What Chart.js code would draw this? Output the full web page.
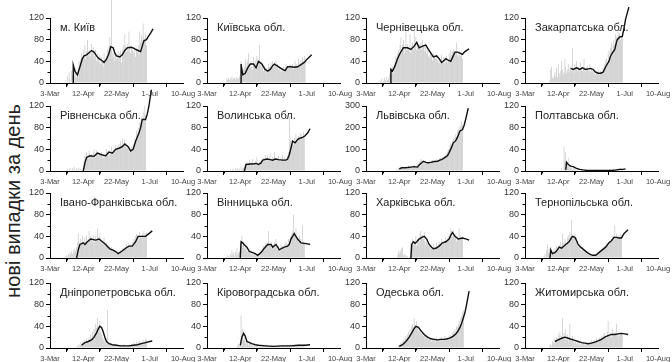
<!DOCTYPE html>
<html>
<head>
<meta charset="utf-8">
<script src="https://cdn.jsdelivr.net/npm/chart.js@4.4.0/dist/chart.umd.min.js"></script>
<style>
body { margin: 0; width: 672px; height: 362px; background: #fff; position: relative; overflow: hidden; font-family: "Liberation Sans", Arial, sans-serif; }
canvas { position: absolute; }
#ylab { position: absolute; left: 13px; top: 201px; transform: translate(-50%, -50%) rotate(-90deg); white-space: nowrap; font-size: 20px; color: #222; }
</style>
</head>
<body>
<div id="ylab">нові випадки за день</div>
<script>
// day 0 = 3 березня
const tickDays = [0, 40, 80, 120, 160];
const tickLabels = ['3-Mar', '12-Apr', '22-May', '1-Jul', '10-Aug'];

const regions = ['м. Київ', 'Київська обл.', 'Чернівецька обл.', 'Закарпатська обл.',
  'Рівненська обл.', 'Волинська обл.', 'Львівська обл.', 'Полтавська обл.',
  'Івано-Франківська обл.', 'Вінницька обл.', 'Харківська обл.', 'Тернопільська обл.',
  'Дніпропетровська обл.', 'Кіровоградська обл.', 'Одеська обл.', 'Житомирська обл.'];

const yMax = [120, 120, 120, 120, 120, 120, 300, 120, 120, 120, 120, 120, 120, 120, 120, 120];
const yTicks120 = [0, 40, 80, 120];
const yTicks300 = [0, 100, 200, 300];

// перший день стовпчиків для кожної області
const barStart = [18, 24, 14, 30, 18, 25, 36, 44, 18, 22, 38, 22, 30, 36, 38, 30];

const barsKyivCity = [0,5,0,12,0,20,8,0,22,15,
  35,20,12,28,10,18,25,40,30,45,55,48,60,
  52,70,45,58,80,50,62,55,48,72,58,66,44,50,62,40,55,48,38,52,
  35,48,42,30,55,45,38,50,62,58,70,85,60,160,55,48,62,40,52,45,
  48,58,42,55,60,38,62,70,55,90,68,58,72,60,95,65,55,70,62,58,
  55,62,48,65,58,70,52,95,75,88,80,110,85,78,92,70];
const lineKyivCity = [[28,0],[28,33],[30,22],[33,15],[36,30],[39,45],[41,50],[44,52],[47,56],[50,60],[53,57],[56,50],[59,45],[62,42],[65,38],[68,44],[71,55],[73,67],[76,65],[78,55],[80,50],[84,48],[87,52],[90,60],[93,65],[97,66],[100,65],[103,62],[106,60],[109,58],[111,68],[113,78],[116,80],[118,85],[121,92],[124,100]];

const barsKyivObl = [8,6,10,5,9,7,12,6,8,10,5,9,11,7,8,12,10,
  40,20,15,25,30,45,38,30,42,55,35,28,40,30,25,48,35,42,30,50,
  45,38,70,32,40,28,35,22,30,25,18,28,20,35,30,25,38,28,40,30,
  38,30,42,28,35,25,30,22,28,20,25,30,22,28,35,30,25,32,28,35,
  30,28,35,25,32,40,28,35,30,45,32,38,42,35,48,40,50,45];
const lineKyivObl = [[41,0],[41,35],[43,15],[46,18],[49,28],[52,35],[56,35],[59,28],[62,40],[66,35],[70,25],[73,22],[76,25],[79,32],[81,35],[84,32],[88,28],[91,25],[94,23],[97,30],[101,30],[105,29],[109,30],[113,34],[117,38],[121,45],[126,52]];

const barsChernivtsi = [0,3,0,5,2,8,0,4,10,6,3,12,5,8,15,20,
  28,22,30,18,35,40,50,45,55,62,48,70,85,60,72,
  80,55,70,95,60,72,65,58,90,55,68,75,62,100,70,85,60,78,65,72,
  68,75,62,80,70,58,72,65,55,60,48,52,45,58,50,42,55,48,52,45,
  50,42,38,45,35,40,52,38,48,42,35,45,50,38,42,55,48,60,52,58,
  62,55,50,58,75,52,48,60,55,50,58,45];
const lineChernivtsi = [[30,0],[30,25],[32,22],[35,32],[38,45],[41,55],[45,65],[50,65],[54,62],[58,68],[61,75],[64,65],[68,68],[72,70],[75,62],[78,55],[81,48],[85,50],[88,45],[91,38],[94,42],[96,45],[99,42],[102,40],[105,50],[107,57],[110,57],[113,55],[116,53],[119,58],[124,63]];

const barsZakarpattia = [5,25,30,10,8,15,20,12,28,10,35,18,12,22,40,25,15,20,45,30,18,25,35,20,28,
  30,22,65,25,18,35,28,40,22,30,25,20,38,28,22,30,45,25,20,28,32,22,25,35,20,28,22,18,25,20,15,22,18,25,20,15,22,18,20,25,
  28,35,40,45,38,55,60,50,65,75,58,70,80,72,90,85,78,95,88,92,80,85,90];
const lineZakarpattia = [[55,27],[58,25],[62,28],[66,25],[69,28],[73,25],[76,26],[79,27],[82,25],[85,20],[88,18],[91,18],[94,20],[97,30],[101,40],[103,50],[105,55],[108,62],[110,75],[111,80],[114,85],[117,86],[119,100],[121,118],[125,140]];

const barsRivne = [0,2,0,4,0,3,6,0,2,5,0,8,3,0,5,2,6,0,4,3,0,2,
  5,20,30,25,35,28,22,38,30,25,32,28,35,40,30,25,38,32,28,35,30,
  28,35,25,30,22,32,28,40,35,30,38,28,32,45,30,38,42,35,48,40,
  45,38,50,42,55,48,60,45,52,58,50,42,48,40,35,42,38,45,40,48,
  50,60,55,75,65,80,70,90,85,100,95,110,90,120,105];
const lineRivne = [[40,0],[42,15],[44,25],[48,28],[53,27],[57,33],[62,30],[67,28],[71,35],[75,33],[79,40],[83,42],[87,45],[90,50],[94,45],[97,37],[100,40],[103,55],[107,70],[109,80],[111,95],[115,95],[117,105],[119,120],[122,150]];

const barsVolyn = [0,2,0,3,1,0,4,2,0,5,3,0,6,2,4,0,8,3,5,6,
  10,15,12,18,8,14,20,10,16,12,22,9,15,18,12,25,10,14,16,12,20,15,
  18,25,20,30,22,18,28,20,24,32,18,22,26,20,35,22,18,24,20,28,22,18,25,20,30,22,26,20,24,18,
  28,35,100,55,60,50,58,48,62,55,68,52,60,65,58,70,62,68,60,72,65];
const lineVolyn = [[45,0],[47,12],[52,13],[56,13],[59,14],[62,12],[65,15],[67,20],[72,22],[76,21],[79,20],[82,22],[86,21],[91,20],[95,20],[97,22],[99,30],[101,42],[103,55],[106,52],[109,58],[111,60],[115,62],[118,65],[121,70],[124,78]];

const barsLviv = [3,8,5,12,15,10,18,12,20,8,15,18,22,12,16,25,14,20,18,24,15,22,28,18,20,25,30,
  35,45,40,55,50,38,42,35,48,40,45,38,42,50,45,40,48,52,42,45,50,48,55,45,50,58,52,60,
  55,65,60,70,75,68,80,90,100,95,120,130,125,140,150,135,155,170,160,185,195,180,210,200,230,215];
const lineLviv = [[40,10],[43,15],[47,15],[50,16],[54,18],[58,20],[62,18],[64,28],[67,38],[69,45],[72,40],[75,38],[78,40],[82,44],[86,45],[89,50],[92,55],[96,65],[98,70],[100,85],[103,110],[105,130],[108,140],[110,155],[113,185],[116,190],[118,210],[120,240],[123,290]];

const barsPoltava = [5,0,3,45,20,35,15,10,25,8,12,5,8,3,6,2,4,
  3,2,4,1,3,2,1,0,2,1,3,0,1,2,0,1,3,1,0,2,1,0,1,2,0,3,1,0,2,1,0,1,2,1,0,3,1,2,0,1,2,4,1,3,2,5,3,2,4,3,5,2,4,3,6,4,3];
const linePoltava = [[49,2],[50,16],[52,12],[55,9],[58,8],[62,5],[66,3],[70,2],[75,1],[85,1],[95,1],[105,1],[110,2],[114,3],[118,3],[121,4]];

const barsIvanoFrankivsk = [0,3,5,2,8,4,10,6,12,8,15,10,18,12,
  20,28,45,30,22,35,28,40,25,32,38,30,42,28,35,50,32,40,38,
  30,42,35,28,40,32,55,38,30,45,35,28,32,25,38,30,22,28,20,25,
  18,22,15,20,12,18,10,15,12,8,10,14,8,12,15,10,18,14,20,16,
  20,25,18,22,28,20,25,22,30,28,35,32,40,45,38,42,35,48,40,38,45,42,50,40,45,48];
const lineIvanoFrankivsk = [[32,0],[34,15],[36,25],[40,28],[42,25],[45,30],[49,35],[52,34],[55,33],[59,35],[63,30],[67,25],[70,20],[72,17],[75,15],[79,12],[82,8],[86,12],[91,18],[95,22],[99,22],[103,30],[106,40],[110,40],[115,40],[119,45],[123,50]];

const barsVinnytsia = [0,2,0,5,3,0,8,4,15,6,10,3,12,8,18,5,10,12,
  25,32,40,22,28,18,25,15,20,12,15,10,8,12,6,10,5,8,4,7,5,
  6,10,8,12,15,10,18,22,15,25,30,20,28,50,25,22,30,18,25,22,
  28,20,35,18,15,22,12,18,25,20,22,18,25,30,20,28,25,35,30,40,
  38,45,50,80,48,42,55,35,38,30,42,28,35,25,60,30,28];
const lineVinnytsia = [[40,0],[41,30],[43,28],[45,24],[48,20],[51,12],[55,10],[58,8],[61,5],[65,10],[69,18],[73,25],[77,25],[79,20],[83,25],[85,20],[87,15],[90,18],[93,20],[97,22],[99,25],[101,35],[103,40],[105,45],[107,40],[109,35],[113,28],[117,27],[121,26],[124,25]];

const barsKharkiv = [5,12,8,15,10,18,20,5,8,3,6,2,4,0,3,0,
  30,20,35,25,30,28,40,22,35,38,30,45,50,38,42,35,48,30,25,32,28,22,25,
  20,15,22,18,25,15,20,18,28,22,25,30,22,28,35,25,30,28,32,38,30,35,40,32,
  45,55,50,40,52,42,38,45,30,40,35,55,38,42,35,40];
const lineKharkiv = [[54,0],[55,25],[57,30],[59,27],[61,30],[64,35],[67,38],[70,40],[73,35],[76,25],[79,20],[81,17],[84,18],[88,22],[92,28],[96,30],[100,35],[102,42],[104,47],[107,40],[111,35],[116,37],[121,35],[124,33]];

const barsTernopil = [0,3,8,2,15,25,10,18,5,20,12,8,15,10,18,12,22,15,20,
  25,18,30,22,45,28,20,35,30,25,38,42,35,48,40,70,38,42,35,45,30,38,
  28,25,20,22,18,15,20,12,15,10,12,8,10,6,8,5,7,4,6,5,8,4,6,
  8,10,6,12,15,10,14,18,15,20,22,18,25,28,22,30,32,28,35,40,38,42,60,38,45,40,35,42,38,45,40];
const lineTernopil = [[30,0],[31,15],[33,8],[36,10],[39,15],[41,20],[44,18],[47,22],[49,25],[53,30],[55,35],[57,40],[60,38],[62,32],[64,25],[67,20],[71,15],[75,10],[78,7],[81,5],[85,5],[89,10],[93,15],[97,20],[101,28],[104,32],[107,38],[110,38],[113,37],[116,37],[119,45],[124,52]];

const barsDnipro = [0,2,0,5,3,8,2,10,5,12,8,15,6,10,18,12,
  15,20,12,25,18,30,22,35,28,45,38,55,40,35,50,30,25,20,15,18,10,12,8,70,10,
  8,5,10,4,6,3,8,5,4,6,3,5,2,4,6,3,5,8,4,3,6,2,5,4,7,3,5,8,6,4,10,7,5,12,8,6,10,14,9,12,8,15,10,12,18,14];
const lineDnipro = [[38,5],[42,10],[46,12],[50,15],[53,20],[56,28],[58,35],[60,40],[62,38],[64,30],[66,20],[68,12],[71,8],[75,6],[80,5],[85,4],[90,4],[95,4],[100,5],[105,6],[110,8],[115,10],[120,12],[123,13]];

const barsKirovohrad = [2,5,8,3,10,60,25,35,15,20,12,8,15,10,6,8,12,5,8,4,
  3,5,2,4,6,3,2,5,3,4,2,6,3,5,2,8,4,3,5,2,4,3,6,2,5,3,4,2,5,3,6,4,2,5,3,4,6,3,5,2,4,6,3,5,8,4,3,6,5,4,7,3,5,6,4,8,5,3,6,4,5,7];
const lineKirovohrad = [[40,5],[42,20],[44,27],[46,22],[48,12],[51,10],[54,8],[58,6],[62,5],[70,4],[80,3],[90,4],[100,4],[110,5],[118,5],[124,6]];

const barsOdesa = [2,5,3,8,10,6,12,15,10,18,22,15,25,30,20,35,28,40,
  45,38,55,42,35,50,40,32,38,28,35,25,30,22,28,20,25,18,22,15,
  18,15,20,12,16,14,18,12,15,20,14,16,12,18,15,20,14,18,16,22,15,18,20,16,22,
  20,25,22,28,30,25,35,30,40,38,45,50,42,55,60,65,70];
const lineOdesa = [[40,3],[44,6],[48,12],[52,20],[55,28],[58,36],[60,40],[63,38],[66,32],[70,25],[74,20],[78,17],[82,16],[86,15],[90,16],[94,16],[98,17],[102,19],[105,22],[108,26],[111,32],[113,38],[115,45],[117,55],[119,65],[121,80],[124,105]];

const barsZhytomyr = [5,8,3,12,10,18,6,15,20,12,25,18,30,15,22,55,20,28,18,35,15,25,12,20,45,18,15,22,12,18,10,
  12,8,10,6,12,8,5,10,7,12,6,8,5,10,8,6,12,8,10,15,8,12,10,15,12,18,14,10,16,20,
  18,22,15,25,20,28,22,18,30,50,25,22,28,20,35,25,30,22,28,45,25,20,30,22,26,28,24];
const lineZhytomyr = [[36,12],[40,15],[44,18],[48,20],[52,18],[56,16],[60,14],[64,12],[68,10],[72,9],[76,8],[80,9],[84,11],[88,13],[92,16],[96,20],[100,23],[104,25],[108,25],[112,26],[116,27],[120,26],[124,25]];

const allBars = [barsKyivCity, barsKyivObl, barsChernivtsi, barsZakarpattia, barsRivne, barsVolyn, barsLviv, barsPoltava,
  barsIvanoFrankivsk, barsVinnytsia, barsKharkiv, barsTernopil, barsDnipro, barsKirovohrad, barsOdesa, barsZhytomyr];
const allLines = [lineKyivCity, lineKyivObl, lineChernivtsi, lineZakarpattia, lineRivne, lineVolyn, lineLviv, linePoltava,
  lineIvanoFrankivsk, lineVinnytsia, lineKharkiv, lineTernopil, lineDnipro, lineKirovohrad, lineOdesa, lineZhytomyr];

// розміщення панелей
const colX = [50, 207, 366, 525];
const rowY = [18, 106, 193, 283];
const plotW = 133, plotH = 65;
const padL = 40, padT = 20, padR = 22, padB = 18;

Chart.defaults.font.family = '"Liberation Sans", Arial, sans-serif';

// малі засічки між підписами + назва області
const panelDeco = {
    id: 'panelDeco',
    afterDraw(chart) {
        const ctx = chart.ctx;
        const area = chart.chartArea;
        const xs = chart.scales.x, ys = chart.scales.y;
        ctx.save();
        ctx.strokeStyle = '#000';
        ctx.lineWidth = 1;
        ctx.beginPath();
        for (let d = 20; d < 160; d += 40) {
            const px = Math.round(xs.getPixelForValue(d)) + 0.5;
            ctx.moveTo(px, area.bottom);
            ctx.lineTo(px, area.bottom + 2.5);
        }
        const step = ys.max / 6;
        for (let v = step; v < ys.max; v += step * 2) {
            const py = Math.round(ys.getPixelForValue(v)) + 0.5;
            ctx.moveTo(area.left, py);
            ctx.lineTo(area.left - 2.5, py);
        }
        ctx.stroke();
        ctx.fillStyle = '#222';
        ctx.font = '11px "Liberation Sans", Arial, sans-serif';
        ctx.textBaseline = 'middle';
        ctx.fillText(chart.options.panelTitle, area.left + 10, area.top + 10);
        ctx.restore();
    }
};

regions.forEach(function(name, i) {
    const col = i % 4, row = Math.floor(i / 4);
    const cv = document.createElement('canvas');
    cv.width = padL + plotW + padR;
    cv.height = padT + plotH + padB;
    cv.style.left = (colX[col] - padL) + 'px';
    cv.style.top = (rowY[row] - padT) + 'px';
    document.body.appendChild(cv);

    const start = barStart[i];
    const yt = yMax[i] === 300 ? yTicks300 : yTicks120;

    new Chart(cv, {
        type: 'bar',
        data: {
            datasets: [{
                type: 'line',
                data: allLines[i].map(p => ({ x: p[0], y: p[1] })),
                borderColor: '#111',
                borderWidth: 1.4,
                pointRadius: 0,
                tension: 0,
                clip: false,
                order: 0
            }, {
                type: 'bar',
                data: allBars[i].map((v, k) => ({ x: start + k, y: v })),
                backgroundColor: '#c6c6c6',
                barPercentage: 0.85,
                categoryPercentage: 1,
                clip: false,
                order: 1
            }]
        },
        options: {
            panelTitle: name,
            responsive: false,
            animation: false,
            devicePixelRatio: 1,
            layout: { padding: { top: padT, right: padR, left: 0, bottom: 0 } },
            plugins: { legend: { display: false }, tooltip: { enabled: false } },
            scales: {
                x: {
                    type: 'linear',
                    min: 0, max: 160,
                    offset: false,
                    afterBuildTicks: s => { s.ticks = tickDays.map(v => ({ value: v })); },
                    afterFit: s => { s.height = padB; },
                    grid: { drawOnChartArea: false, tickLength: 4, color: '#000' },
                    border: { color: '#000', width: 1 },
                    ticks: {
                        callback: v => tickLabels[tickDays.indexOf(v)],
                        font: { size: 7.5 }, color: '#444', padding: 2,
                        maxRotation: 0, autoSkip: false
                    }
                },
                y: {
                    min: 0, max: yMax[i],
                    afterBuildTicks: s => { s.ticks = yt.map(v => ({ value: v })); },
                    afterFit: s => { s.width = padL; },
                    grid: { drawOnChartArea: false, tickLength: 4, color: '#000' },
                    border: { color: '#000', width: 1 },
                    ticks: { font: { size: 9 }, color: '#333', padding: 2 }
                }
            }
        },
        plugins: [panelDeco]
    });
});
</script>
</body>
</html>
